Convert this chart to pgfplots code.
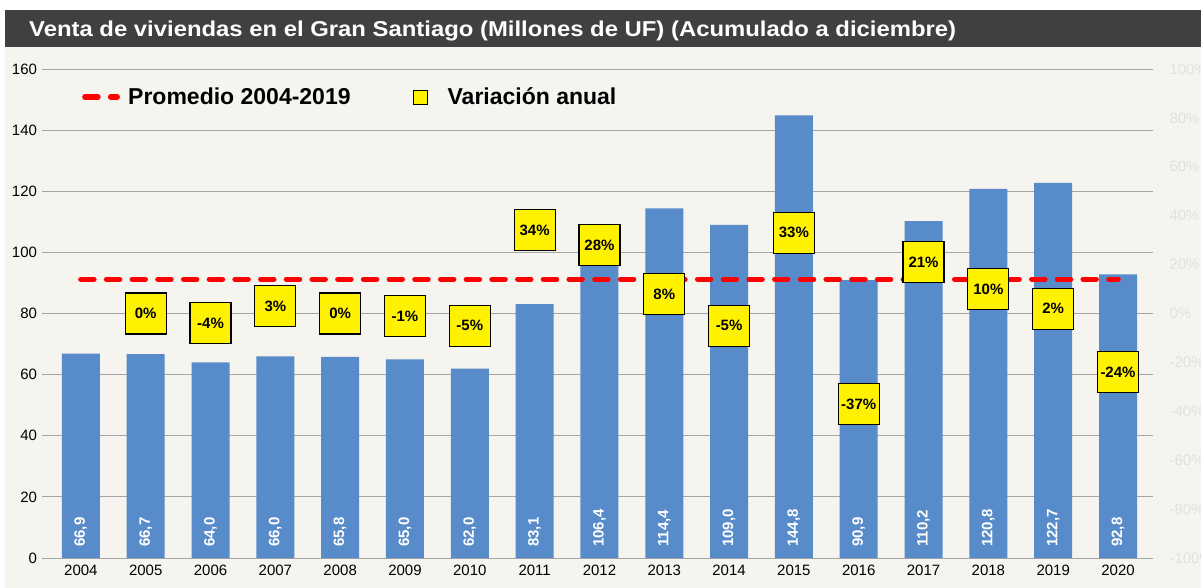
\documentclass[border=0pt]{standalone}
\usepackage{fontspec}
\setmainfont{Liberation Sans}
\newfontfamily\titlefont[FakeStretch=1.11]{Liberation Sans}
\usepackage{pgfplots}
\pgfplotsset{compat=1.18}
\definecolor{bgc}{RGB}{245,244,239}
\definecolor{titlec}{RGB}{64,64,64}
\definecolor{barc}{RGB}{88,139,202}
\definecolor{gridc}{RGB}{165,165,165}
\definecolor{rlab}{RGB}{225,225,221}
\begin{document}
\begin{tikzpicture}
\useasboundingbox (0,0) rectangle (1201bp,588bp);
\fill[white] (0,0) rectangle (1201bp,588bp);
\fill[bgc] (5bp,0) rectangle (1201bp,541bp);
\fill[titlec] (5bp,541bp) rectangle (1201bp,578bp);
\node[anchor=base west, text=white, font=\titlefont\fontsize{21.5bp}{24bp}\selectfont\bfseries, inner sep=0pt] at (29bp,551.3bp) {Venta de viviendas en el Gran Santiago (Millones de UF) (Acumulado a diciembre)};

\begin{axis}[
  at={(42bp,30bp)}, anchor=south west,
  width=1111bp, height=489bp, scale only axis,
  xmin=-0.6, xmax=16.54, ymin=0, ymax=160,
  axis line style={draw=none},
  major tick length=0pt,
  ytick={0,20,...,160},
  ymajorgrids, grid style={gridc, line width=0.8bp},
  xtick={0,...,16},
  xticklabels={2004,2005,2006,2007,2008,2009,2010,2011,2012,2013,2014,2015,2016,2017,2018,2019,2020},
  tick label style={font=\fontsize{15bp}{18bp}\selectfont},
  xticklabel style={yshift=-4bp},
  yticklabel style={xshift=-1.5bp},
  /pgf/number format/assume math mode=true,
  clip=false,
  legend style={draw=none, fill=none, at={(0.036,0.9427)}, anchor=west, legend columns=-1,
    font=\fontsize{23bp}{26bp}\selectfont\bfseries, nodes={inner sep=0pt}, inner sep=0pt,
    /tikz/every even column/.append style={column sep=0pt},
    /tikz/every odd column/.append style={column sep=0pt}},
]
\addplot[ybar, bar width=38bp, bar shift=0pt, fill=barc, draw=none, forget plot,
  point meta=y,
  nodes near coords={\pgfmathprintnumber[fixed,fixed zerofill,precision=1,use comma,assume math mode=true]{\pgfplotspointmeta}},
  visualization depends on={y \as \rawy},
  every node near coord/.append style={shift={(axis direction cs:0,-\rawy)}, rotate=90, anchor=west, text=white,
    font=\fontsize{15bp}{18bp}\selectfont\bfseries, inner xsep=11bp}
] coordinates {
(0,66.9) (1,66.7) (2,64.0) (3,66.0) (4,65.8) (5,65.0) (6,62.0) (7,83.1) (8,106.4)
(9,114.4) (10,109.0) (11,144.8) (12,90.9) (13,110.2) (14,120.8) (15,122.7) (16,92.8)
};
\addplot[red, line width=5.5bp, line cap=round, dash pattern=on 13bp off 12.7bp,
  legend image code/.code={\path[draw=none] (0,0) -- (46bp,0);
    \draw[red, line width=5.5bp, line cap=round, dash pattern=on 13bp off 12.7bp] (2.75bp,0) -- (35bp,0);}
] coordinates {(0,91.2) (16,91.2)};
\addlegendentry{Promedio 2004-2019}
\addlegendimage{legend image code/.code={\path[draw=none] (0,0) -- (97bp,0);
    \draw[fill=yellow, draw=black, line width=1bp] (63bp,-7bp) rectangle (77bp,7bp);}}
\addlegendentry{Variación anual}
\end{axis}

\begin{axis}[
  at={(42bp,30bp)}, anchor=south west,
  width=1111bp, height=489bp, scale only axis,
  xmin=-0.6, xmax=16.54, ymin=-100, ymax=100,
  axis x line=none, axis y line*=right, axis line style={draw=none},
  major tick length=0pt,
  ytick={-100,-80,-60,-40,-20,0,20,40,60,80,100},
  yticklabels={-100\%,-80\%,-60\%,-40\%,-20\%,0\%,20\%,40\%,60\%,80\%,100\%},
  yticklabel style={text=rlab, font=\fontsize{15bp}{18bp}\selectfont, anchor=west, xshift=13bp},
  clip=false,
]
\addplot[draw=none, mark=none, point meta=explicit symbolic, nodes near coords,
  every node near coord/.style={anchor=center, fill=yellow, draw=black, line width=1.2bp,
    minimum width=41bp, minimum height=41bp, inner sep=1bp,
    font=\fontsize{15bp}{18bp}\selectfont\bfseries, text=black}
] coordinates {
(1,0) [0\%] (2,-4) [-4\%] (3,3) [3\%] (4,0) [0\%] (5,-1) [-1\%] (6,-5) [-5\%]
(7,34) [34\%] (8,28) [28\%] (9,8) [8\%] (10,-5) [-5\%] (11,33) [33\%] (12,-37) [-37\%]
(13,21) [21\%] (14,10) [10\%] (15,2) [2\%] (16,-24) [-24\%]
};
\end{axis}
\end{tikzpicture}
\end{document}
